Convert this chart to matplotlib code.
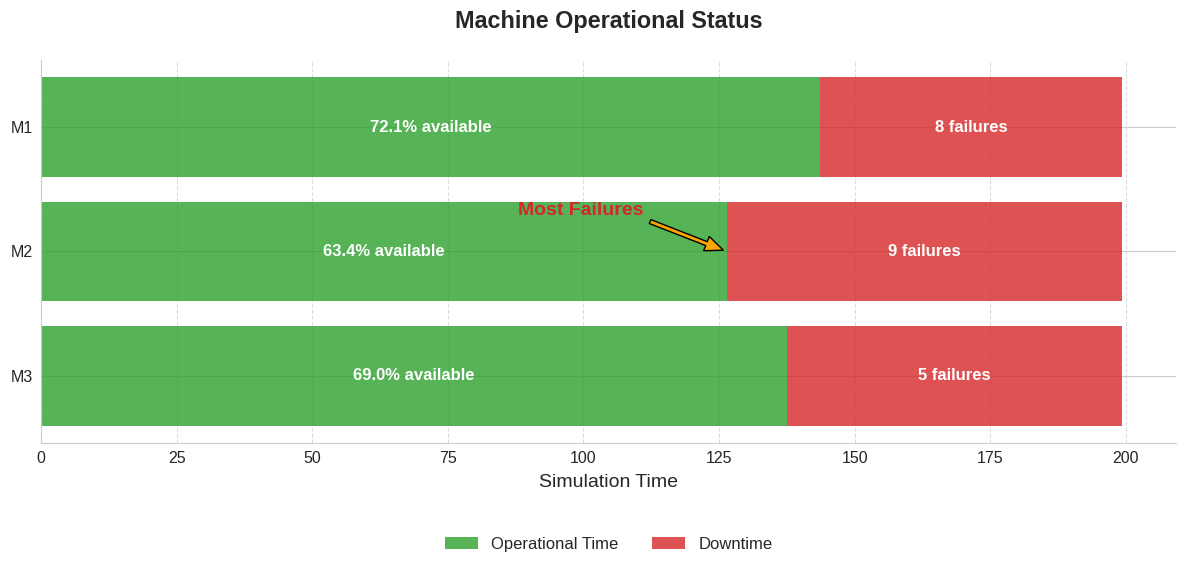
import matplotlib.pyplot as plt
import seaborn as sns

sns.set_style("whitegrid")
plt.rcParams['font.family'] = ['Liberation Sans', 'DejaVu Sans']

machines = ['M1', 'M2', 'M3']
operational = [143.7, 126.4, 137.5]
downtime = [55.6, 72.9, 61.8]
failures = [8, 9, 5]
availability = [72.1, 63.4, 69.0]

fig, ax = plt.subplots(figsize=(11.88, 5.69), dpi=100)
fig.subplots_adjust(left=0.0345, right=0.99, top=0.8946, bottom=0.2214)

# stacked bars
ax.barh(machines, operational, height=0.8, color='#2ca02c', alpha=0.8,
        linewidth=0, label='Operational Time')
ax.barh(machines, downtime, left=operational, height=0.8, color='#d62728', alpha=0.8,
        linewidth=0, label='Downtime')
ax.invert_yaxis()

for i in range(len(machines)):
    ax.text(operational[i] / 2, i, f"{availability[i]:.1f}% available",
            ha='center', va='center', color='white', fontweight='bold', fontsize=12)
    ax.text(operational[i] + downtime[i] / 2, i, f"{failures[i]} failures",
            ha='center', va='center', color='white', fontweight='bold', fontsize=12)

# most failures
worst = failures.index(max(failures))
ax.annotate('Most Failures', xy=(operational[worst], worst),
            xytext=(99.5, worst - 0.33),
            ha='center', va='center', color='#d62728', fontsize=14, fontweight='bold',
            arrowprops=dict(facecolor='orange', edgecolor='black', shrink=0.04,
                            width=3, headwidth=11, headlength=13))

ax.set_title('Machine Operational Status', fontsize=16.8, fontweight='bold', pad=23, color='#262626')
ax.set_xlabel('Simulation Time', fontsize=14, labelpad=6)
ax.tick_params(axis='both', labelsize=11.5, pad=2)
ax.grid(axis='x', linestyle='--', alpha=0.7)
ax.set_axisbelow(True)
for s in ['top', 'right']:
    ax.spines[s].set_visible(False)

ax.legend(loc='upper center', bbox_to_anchor=(0.5, -0.205), ncol=2, frameon=False, fontsize=12)

plt.savefig('out.png', dpi=100)
